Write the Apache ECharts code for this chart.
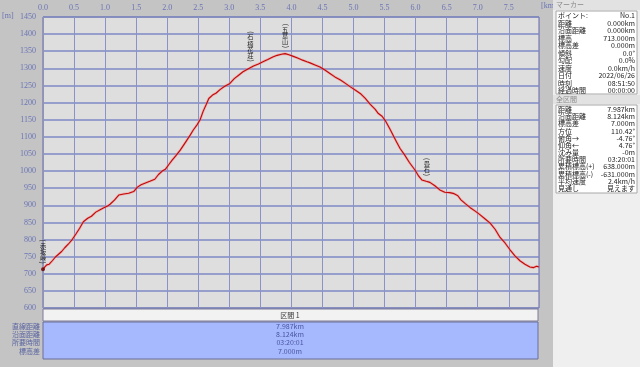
<!DOCTYPE html>
<html><head><meta charset="utf-8">
<script src="https://cdn.jsdelivr.net/npm/echarts@6/dist/echarts.min.js"></script>
<style>html,body{margin:0;padding:0;background:#c4c4c4;overflow:hidden}#c{width:640px;height:367px}</style>
</head><body><div id="c"></div>
<script>
// ---- data ----
const distKm = [0.00,0.03,0.06,0.10,0.15,0.20,0.25,0.30,0.35,0.41,0.47,0.53,0.59,0.65,0.72,0.78,0.85,0.92,0.98,1.04,1.08,1.15,1.22,1.30,1.38,1.46,1.52,1.58,1.65,1.72,1.80,1.86,1.92,1.97,2.03,2.08,2.14,2.21,2.28,2.37,2.42,2.48,2.53,2.58,2.63,2.67,2.73,2.79,2.85,2.92,3.01,3.08,3.15,3.22,3.30,3.39,3.47,3.55,3.62,3.70,3.77,3.84,3.90,3.96,4.03,4.10,4.18,4.25,4.30,4.38,4.46,4.54,4.62,4.70,4.79,4.87,4.95,5.05,5.12,5.19,5.27,5.35,5.40,5.46,5.52,5.58,5.65,5.70,5.75,5.82,5.90,5.99,6.05,6.10,6.17,6.23,6.31,6.39,6.47,6.55,6.62,6.68,6.73,6.80,6.88,6.96,7.04,7.12,7.20,7.28,7.36,7.44,7.52,7.60,7.68,7.76,7.84,7.90,7.95,7.987];
const elevM = [713,720,726,728,738,749,757,765,776,787,800,816,833,852,862,868,880,887,893,898,903,915,930,933,935,940,953,960,965,970,976,990,1000,1005,1020,1032,1045,1061,1080,1105,1120,1135,1150,1175,1195,1212,1222,1228,1238,1247,1256,1270,1280,1290,1298,1307,1313,1320,1326,1333,1338,1341,1343,1340,1335,1330,1324,1319,1316,1310,1304,1295,1285,1275,1266,1256,1246,1234,1225,1212,1195,1180,1168,1160,1145,1125,1100,1083,1066,1048,1025,1003,985,974,970,967,957,945,938,937,934,928,916,905,893,883,872,860,848,830,806,790,770,752,738,728,720,718,722,720];
const xMin = 0, xMax = 7.987, xStep = 0.5;
const yMin = 600, yMax = 1450, yStep = 50;
const annoNames = ['(赤坂峠)','(石楠花荘)','(五葉山)','(畳石)'];
const annoDist = [0, 3.34, 3.90, 6.18];
const annoElev = [713, 1303, 1343, 969];
const sectionTitle = '区間 1';
const sectionLabels = ['直線距離','沿面距離','所要時間','標高差'];
const sectionValues = ['7.987km','8.124km','03:20:01','7.000m'];
const markerTitle = 'マーカー';
const markerLabels = ['ポイント:','距離','沿面距離','標高','標高差','傾斜','勾配','速度','日付','時刻','経過時間'];
const markerValues = ['No.1','0.000km','0.000km','713.000m','0.000m','0.0°','0.0%','0.0km/h','2022/06/26','08:51:50','00:00:00'];
const totalTitle = '全区間';
const totalLabels = ['距離','沿面距離','標高差','方位','俯角→','仰角←','沈み量','所要時間','累積標高(+)','累積標高(-)','平均速度','見通し'];
const totalValues = ['7.987km','8.124km','7.000m','110.42°','-4.76°','4.76°','-0m','03:20:01','638.000m','-631.000m','2.4km/h','見えます'];

// ---- chart ----
const CJK = "'Noto Sans CJK JP', sans-serif";
const axisTxt = '#6a74b6';
const chart = echarts.init(document.getElementById('c'), null, {renderer:'canvas'});
const profile = distKm.map((d,i)=>[d, elevM[i]]);
chart.setOption({
  backgroundColor: '#c4c4c4',
  animation: false,
  grid: {left:43, top:17, width:496, height:291, show:true, backgroundColor:'#dedede', borderColor:'#6a6a8c', borderWidth:1, containLabel:false},
  xAxis: {type:'value', position:'top', min:xMin, max:xMax, interval:xStep,
    axisLine:{show:false}, axisTick:{show:false},
    axisLabel:{color:axisTxt, fontSize:8, fontFamily:'Liberation Serif', margin:5, showMaxLabel:false,
      formatter: v => Math.abs(v/xStep - Math.round(v/xStep))<1e-6 ? v.toFixed(1) : ''},
    splitLine:{show:true, lineStyle:{color:'#8a92c8', width:1}}},
  yAxis: {type:'value', min:yMin, max:yMax, interval:yStep,
    axisLine:{show:false}, axisTick:{show:false},
    axisLabel:{color:axisTxt, fontSize:8, fontFamily:'Liberation Serif', margin:7, formatter: v => String(v)},
    splitLine:{show:true, lineStyle:{color:'#7e88c6', width:1.6}}},
  series: [
    {type:'line', data:profile, symbol:'none', lineStyle:{color:'rgba(255,120,120,0.45)', width:2.6}, silent:true, z:2},
    {type:'line', data:profile, symbol:'none', lineStyle:{color:'#c00808', width:1.1}, z:3},
    {type:'scatter', data:[[distKm[0], elevM[0]]], symbolSize:4, itemStyle:{color:'#6a0000'}, z:4}
  ]
});

const g = [];
// axis unit labels
g.push({type:'text', x:2, y:16, style:{text:'[m]', fill:axisTxt, font:"8px 'Liberation Serif'", verticalAlign:'middle'}});
g.push({type:'text', x:541, y:6, style:{text:'[km]', fill:axisTxt, font:"8px 'Liberation Serif'", verticalAlign:'middle'}});
// annotations: vertical writing, upright CJK glyphs, rotated parentheses
annoNames.forEach((n,i)=>{
  const p = chart.convertToPixel({gridIndex:0}, [annoDist[i], annoElev[i]]);
  const chars = Array.from(n);
  const hs = chars.map(c => (c==='('||c===')') ? 3.5 : 6.2);
  const total = hs.reduce((a,b)=>a+b,0);
  let y = p[1] - 5 - total;
  chars.forEach((c,k)=>{
    const cy = y + hs[k]/2;
    const isP = (c==='('||c===')');
    g.push({type:'text', x:p[0], y:cy, rotation: isP ? -Math.PI/2 : 0, z:10,
      style:{text:c, fill:'#222', font:(isP?"7px ":"6.2px ")+CJK, align:'center', verticalAlign:'middle'}});
    y += hs[k];
  });
});
// bottom section table
g.push({type:'rect', shape:{x:43, y:309, width:495, height:12}, style:{fill:'#f2f2f2', stroke:'#7a7a9a', lineWidth:1}});
g.push({type:'text', x:290, y:315, style:{text:sectionTitle, fill:'#333', font:"7px "+CJK, align:'center', verticalAlign:'middle'}});
g.push({type:'rect', shape:{x:43, y:322, width:495, height:37}, style:{fill:'#a6b8fe', stroke:'#6a6f98', lineWidth:1}});
sectionLabels.forEach((t,i)=>{
  const yy = 326 + i*8.3;
  g.push({type:'text', x:40, y:yy, style:{text:t, fill:'#5a64a0', font:"7px "+CJK, align:'right', verticalAlign:'middle'}});
  g.push({type:'text', x:290, y:yy, style:{text:sectionValues[i], fill:'#4a55a0', font:"7px "+CJK, align:'center', verticalAlign:'middle'}});
});
// right panel
g.push({type:'rect', shape:{x:553, y:0, width:87, height:367}, style:{fill:'#efefef'}});
g.push({type:'rect', shape:{x:553, y:0, width:87, height:10}, style:{fill:'#e2e2e2'}});
g.push({type:'text', x:556, y:4.5, style:{text:markerTitle, fill:'#8a8a8a', font:"7px "+CJK, verticalAlign:'middle'}});
g.push({type:'rect', shape:{x:556, y:11, width:81, height:83}, style:{fill:'#ffffff', stroke:'#a8a8a8', lineWidth:1}});
markerLabels.forEach((t,i)=>{
  const yy = 15.5 + i*7.5;
  g.push({type:'text', x:558, y:yy, style:{text:t, fill:'#222', font:"7px "+CJK, verticalAlign:'middle'}});
  g.push({type:'text', x:635, y:yy, style:{text:markerValues[i], fill:'#222', font:"7px "+CJK, align:'right', verticalAlign:'middle'}});
});
g.push({type:'rect', shape:{x:553, y:95, width:87, height:9}, style:{fill:'#e2e2e2'}});
g.push({type:'text', x:556, y:99.5, style:{text:totalTitle, fill:'#8a8a8a', font:"7px "+CJK, verticalAlign:'middle'}});
g.push({type:'rect', shape:{x:556, y:105, width:81, height:88}, style:{fill:'#ffffff', stroke:'#a8a8a8', lineWidth:1}});
totalLabels.forEach((t,i)=>{
  const yy = 109.5 + i*7.15;
  g.push({type:'text', x:558, y:yy, style:{text:t, fill:'#222', font:"7px "+CJK, verticalAlign:'middle'}});
  g.push({type:'text', x:635, y:yy, style:{text:totalValues[i], fill:'#222', font:"7px "+CJK, align:'right', verticalAlign:'middle'}});
});
chart.setOption({graphic: g});
</script></body></html>
